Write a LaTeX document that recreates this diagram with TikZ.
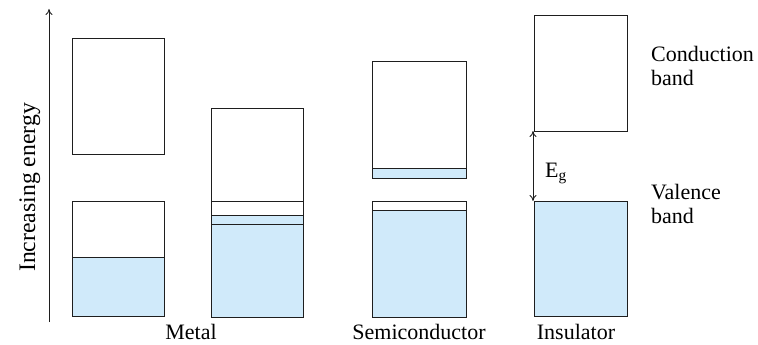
\documentclass[tikz,border=0pt]{standalone}
\usepackage{fontspec}
\setmainfont{Liberation Serif}
\usetikzlibrary{arrows.meta}
\definecolor{bandfill}{RGB}{208,234,250}
\definecolor{edge}{RGB}{30,30,30}
\begin{document}
\begin{tikzpicture}[x=1pt,y=-1pt,
  band/.style={draw=edge,line width=1pt},
  filled/.style={fill=bandfill},
  lbl/.style={font=\fontsize{22}{24}\selectfont,inner sep=0pt},
  arr/.style={draw=edge,line width=0.9pt,-{To[length=6pt,width=7pt]}}]
\useasboundingbox (0,0) rectangle (758,345);
% energy axis
\coordinate (axb) at (49,322);
\coordinate (axt) at (49,9);
\draw[arr] (axb) -- (axt);
\node[lbl,font=\fontsize{23.7}{26}\selectfont,rotate=90,anchor=base] (energy) at (35,187.5) {Increasing energy};
% Metal 1
\draw[band] (72,39) rectangle (164,154);
\fill[filled] (72,257) rectangle (164,316);
\draw[band] (72,257) -- (164,257);
\draw[band] (72,201) rectangle (164,316);
% Metal 2 (overlapping bands)
\fill[filled] (211,215) rectangle (303,317);
\draw[band] (211,108) rectangle (303,224);
\draw[band] (211,201) rectangle (303,317);
\draw[band] (211,215) -- (303,215);
\node[lbl,anchor=base] (metal) at (191,339) {Metal};
% Semiconductor
\fill[filled] (372,168) rectangle (466,178);
\draw[band] (372,168) -- (466,168);
\draw[band] (372,62) rectangle (466,178);
\fill[filled] (372,210) rectangle (466,317);
\draw[band] (372,210) -- (466,210);
\draw[band] (372,201) rectangle (466,317);
\node[lbl,anchor=base] (semi) at (419,339) {Semiconductor};
% Insulator
\draw[band] (534,16) rectangle (627,131);
\draw[band,filled] (534,201) rectangle (627,316);
\node[lbl,anchor=base] (ins) at (576,339) {Insulator};
\coordinate (gtop) at (533,131);
\coordinate (gbot) at (533,201);
\draw[draw=edge,line width=0.9pt,{To[length=6pt,width=7pt]}-{To[length=6pt,width=7pt]}] (gtop) -- (gbot);
\node[lbl,anchor=base west] (eg) at (545,177) {E\textsubscript{g}};
% labels
\node[lbl,anchor=base west,align=left] (cond) at (651,85) {Conduction\\band};
\node[lbl,anchor=base west,align=left] (val) at (651,223) {Valence\\band};
\end{tikzpicture}
\end{document}
